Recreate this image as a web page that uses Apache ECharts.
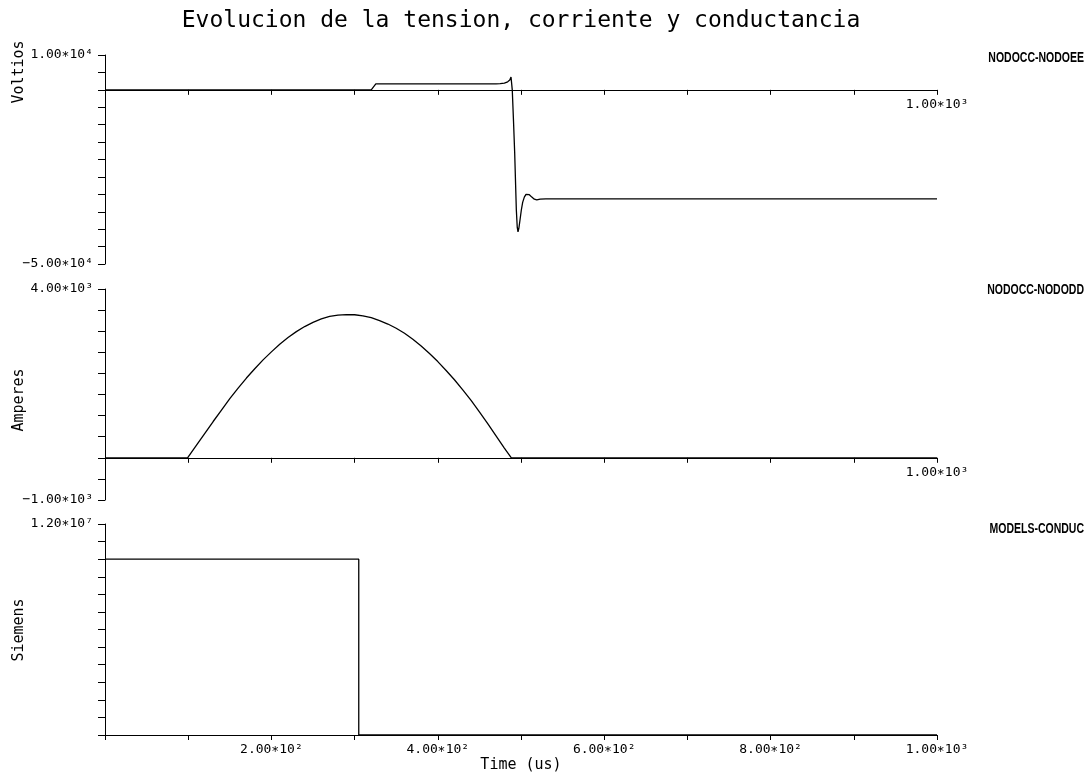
<!DOCTYPE html>
<html>
<head>
<meta charset="utf-8">
<script src="https://cdn.jsdelivr.net/npm/echarts/dist/echarts.min.js"></script>
<style>
html,body{margin:0;padding:0;background:#fff;}
#c{width:1090px;height:779px;}
</style>
</head>
<body>
<div id="c"></div>
<script>
// ---- data ----
const chartTitle = 'Evolucion de la tension, corriente y conductancia';
const panelNames = ['NODOCC-NODOEE', 'NODOCC-NODODD', 'MODELS-CONDUC'];
const yTitles = ['Voltios', 'Amperes', 'Siemens'];
const xTitle = 'Time (us)';

// Voltage (V) vs time (us)
const vTime  = [0, 320, 325.5, 470, 475, 480, 484, 486.5, 488, 489.5, 491, 492.4, 494.4, 495.5, 496.4, 497.4, 499, 500.4, 502, 504, 506, 508, 510, 513, 516, 519, 523, 530, 1000];
const vValue = [0, 0, 1700, 1700, 1800, 1950, 2300, 2800, 3700, 0, -9000, -18000, -34500, -39500, -40800, -39800, -37000, -34500, -32300, -30800, -30000, -29900, -30100, -30800, -31400, -31600, -31400, -31300, -31300];

// Current (A) vs time (us)
const iTime  = [0, 99.2, 110, 120, 130, 140, 150, 160, 170, 180, 190, 200, 210, 220, 230, 240, 250, 260, 270, 280, 290, 300, 310, 320, 330, 340, 350, 360, 370, 380, 390, 400, 410, 420, 430, 440, 450, 460, 470, 480, 488.4, 1000];
const iValue = [0, 0, 300, 580, 860, 1130, 1400, 1650, 1890, 2110, 2320, 2510, 2690, 2850, 2990, 3110, 3210, 3290, 3350, 3380, 3395, 3390, 3365, 3320, 3250, 3170, 3070, 2950, 2810, 2650, 2470, 2280, 2070, 1850, 1610, 1360, 1090, 810, 520, 230, 0, 0];

// Conductance (S) vs time (us)
const gTime  = [0, 305, 305, 1000];
const gValue = [1.0e7, 1.0e7, 0, 0];

// axis ranges / tick labels
const xRange = [0, 1000, 100];
const xTickValues = [200, 400, 600, 800, 1000];
const xTickLabels = ['2.00∗10²', '4.00∗10²', '6.00∗10²', '8.00∗10²', '1.00∗10³'];
const yRanges = [[-50000, 10000, 5000], [-1000, 4000, 500], [0, 1.2e7, 1e6]];
const yTickValues = [[-50000, 10000], [-1000, 4000], [1.2e7]];
const yTickLabels = [['−5.00∗10⁴', '1.00∗10⁴'], ['−1.00∗10³', '4.00∗10³'], ['1.20∗10⁷']];

// ---- layout ----
const MONO = "'DejaVu Sans Mono', 'Liberation Mono', monospace";
const gridLeft = 105, gridRight = 153;
const grids = [
  {left: gridLeft, right: gridRight, top: 55, height: 209},
  {left: gridLeft, right: gridRight, top: 289, height: 211},
  {left: gridLeft, right: gridRight, top: 524, height: 211}
];

function pairs(t, v) { return t.map((x, k) => [x, v[k]]); }

// x axis sits on the y = 0 line of each panel (offset derived from the y range)
function zeroOffset(k) {
  const r = yRanges[k];
  return -grids[k].height * (0 - r[0]) / (r[1] - r[0]);
}

const xAxes = grids.map((g, k) => ({
  type: 'value', gridIndex: k, min: xRange[0], max: xRange[1], interval: xRange[2],
  position: 'bottom', offset: zeroOffset(k),
  axisLine: {show: true, onZero: false, lineStyle: {color: '#000', width: 1}},
  axisTick: {show: true, length: 5, lineStyle: {color: '#000', width: 1}},
  splitLine: {show: false},
  axisLabel: {
    show: true, color: '#000', fontFamily: MONO, fontSize: 13, margin: 8,
    showMaxLabel: true, showMinLabel: true,
    formatter: function (val) {
      const idx = xTickValues.indexOf(val);
      if (idx < 0) return '';
      if (k < 2 && val !== 1000) return '';
      return xTickLabels[idx];
    }
  },
  name: k === 2 ? xTitle : '',
  nameLocation: 'middle', nameGap: 23,
  nameTextStyle: {color: '#000', fontFamily: MONO, fontSize: 15}
}));

const yAxes = grids.map((g, k) => ({
  type: 'value', gridIndex: k, min: yRanges[k][0], max: yRanges[k][1], interval: yRanges[k][2],
  axisLine: {show: true, onZero: false, lineStyle: {color: '#000', width: 1}},
  axisTick: {show: true, inside: false, length: 7, lineStyle: {color: '#000', width: 1}},
  splitLine: {show: false},
  axisLabel: {
    show: true, color: '#000', fontFamily: MONO, fontSize: 13, margin: 12,
    showMaxLabel: true, showMinLabel: true,
    formatter: function (val) {
      const idx = yTickValues[k].indexOf(val);
      return idx < 0 ? '' : yTickLabels[k][idx];
    }
  }
}));

const lineStyle = {color: '#000', width: 1.3};
const series = [
  {type: 'line', xAxisIndex: 0, yAxisIndex: 0, data: pairs(vTime, vValue), showSymbol: false, lineStyle: lineStyle, animation: false},
  {type: 'line', xAxisIndex: 1, yAxisIndex: 1, data: pairs(iTime, iValue), showSymbol: false, lineStyle: lineStyle, animation: false},
  {type: 'line', xAxisIndex: 2, yAxisIndex: 2, data: pairs(gTime, gValue), showSymbol: false, lineStyle: lineStyle, animation: false}
];

const yTitleCenters = [72, 400, 630];
const panelNameY = [58, 290, 529];
const graphics = [
  {type: 'text', x: 521, y: 21, style: {text: chartTitle, align: 'center', verticalAlign: 'middle', fill: '#000', font: "23px " + MONO}}
];
yTitles.forEach((t, k) => {
  graphics.push({type: 'text', x: 19, y: yTitleCenters[k], rotation: Math.PI / 2,
    style: {text: t, align: 'center', verticalAlign: 'middle', fill: '#000', font: "15px " + MONO}});
});
panelNames.forEach((t, k) => {
  graphics.push({type: 'text', x: 1084, y: panelNameY[k], scaleX: 0.75,
    style: {text: t, align: 'right', verticalAlign: 'middle', fill: '#000', font: "bold 14px 'Liberation Sans', Arial, sans-serif"}});
});

const chart = echarts.init(document.getElementById('c'), null, {renderer: 'canvas'});
chart.setOption({
  backgroundColor: '#fff',
  animation: false,
  grid: grids,
  xAxis: xAxes,
  yAxis: yAxes,
  series: series,
  graphic: graphics
});
</script>
</body>
</html>
